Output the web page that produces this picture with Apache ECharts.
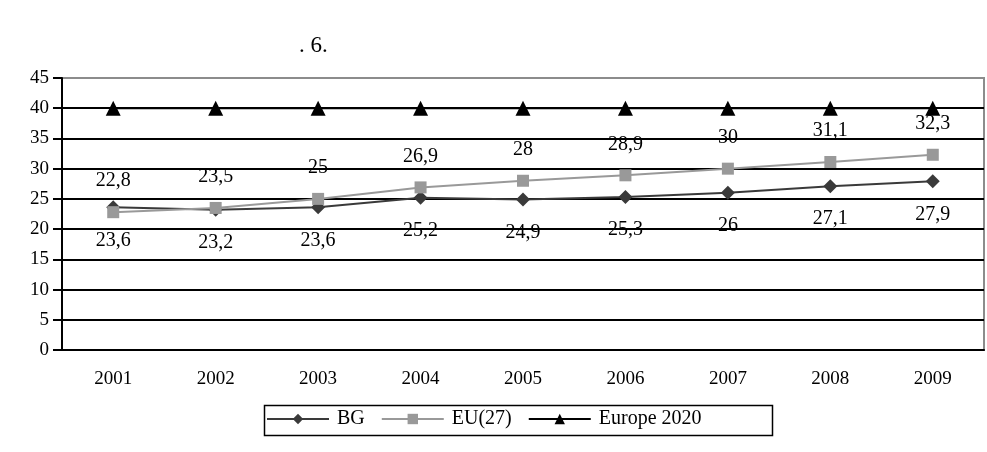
<!DOCTYPE html>
<html>
<head>
<meta charset="utf-8">
<script src="https://cdn.jsdelivr.net/npm/echarts@6/dist/echarts.min.js"></script>
<style>
  html, body { margin: 0; padding: 0; background: #fff; }
  #chart { width: 987px; height: 452px; }
</style>
</head>
<body>
<div id="chart"></div>
<script>
// Years on the category axis
const years = ['2001', '2002', '2003', '2004', '2005', '2006', '2007', '2008', '2009'];
// Bulgaria
const bgValues = [23.6, 23.2, 23.6, 25.2, 24.9, 25.3, 26, 27.1, 27.9];
// EU-27 average
const euValues = [22.8, 23.5, 25, 26.9, 28, 28.9, 30, 31.1, 32.3];
// Europe 2020 target
const targetValues = [40, 40, 40, 40, 40, 40, 40, 40, 40];
// Value axis ticks
const yTicks = [0, 5, 10, 15, 20, 25, 30, 35, 40, 45];

const serif = '"Liberation Serif", "Times New Roman", serif';
const fmt = p => String(p.value).replace('.', ',');

const chart = echarts.init(document.getElementById('chart'));
chart.setOption({
  animation: false,
  backgroundColor: '#fff',
  title: {
    text: '. 6.',
    left: 294,
    top: 29,
    textStyle: { fontFamily: serif, fontSize: 23, fontWeight: 'normal', color: '#000' }
  },
  grid: {
    left: 62, right: 3, top: 78, bottom: 102,
    show: true, borderColor: '#8c8c8c', borderWidth: 2
  },
  // frame around the legend
  graphic: [{
    type: 'rect', left: 262, top: 403,
    shape: { width: 508, height: 30 },
    style: { fill: 'none', stroke: '#000', lineWidth: 1.5 },
    silent: true
  }],
  legend: {
    left: 266, top: 409,
    itemWidth: 62, itemHeight: 13, itemGap: 16,
    padding: 0,
    textStyle: { fontFamily: serif, fontSize: 20, color: '#000', padding: [0, 0, 0, 3] },
    data: ['BG', 'EU(27)', 'Europe 2020']
  },
  xAxis: {
    type: 'category',
    data: years,
    boundaryGap: true,
    axisLine: { lineStyle: { color: '#000', width: 2 } },
    axisTick: { length: 5, lineStyle: { color: '#000', width: 2 } },
    axisLabel: { fontFamily: serif, fontSize: 19, color: '#000', margin: 20 }
  },
  yAxis: {
    type: 'value',
    min: yTicks[0], max: yTicks[yTicks.length - 1], interval: 5,
    axisLine: { show: true, lineStyle: { color: '#000', width: 2 } },
    axisTick: { show: true, length: 9, lineStyle: { color: '#000', width: 2 } },
    axisLabel: { fontFamily: serif, fontSize: 19, color: '#000', margin: 13 },
    splitLine: {
      lineStyle: {
        color: ['#000', '#000', '#000', '#000', '#000', '#000', '#000', '#000', '#000', '#8c8c8c'],
        width: 2
      }
    }
  },
  series: [
    {
      name: 'BG', type: 'line', data: bgValues,
      symbol: 'diamond', symbolSize: 14,
      lineStyle: { color: '#3a3a3a', width: 2 },
      itemStyle: { color: '#3a3a3a' },
      label: {
        show: true, position: 'bottom', distance: 16, formatter: fmt,
        fontFamily: serif, fontSize: 20, color: '#000'
      },
      z: 3
    },
    {
      name: 'EU(27)', type: 'line', data: euValues,
      symbol: 'rect', symbolSize: 12,
      lineStyle: { color: '#999', width: 2 },
      itemStyle: { color: '#999' },
      label: {
        show: true, position: 'top', distance: 15, formatter: fmt,
        fontFamily: serif, fontSize: 20, color: '#000'
      },
      z: 4
    },
    {
      name: 'Europe 2020', type: 'line', data: targetValues,
      symbol: 'triangle', symbolSize: 15,
      lineStyle: { color: '#000', width: 2 },
      itemStyle: { color: '#000' },
      z: 5
    }
  ]
});
</script>
</body>
</html>
